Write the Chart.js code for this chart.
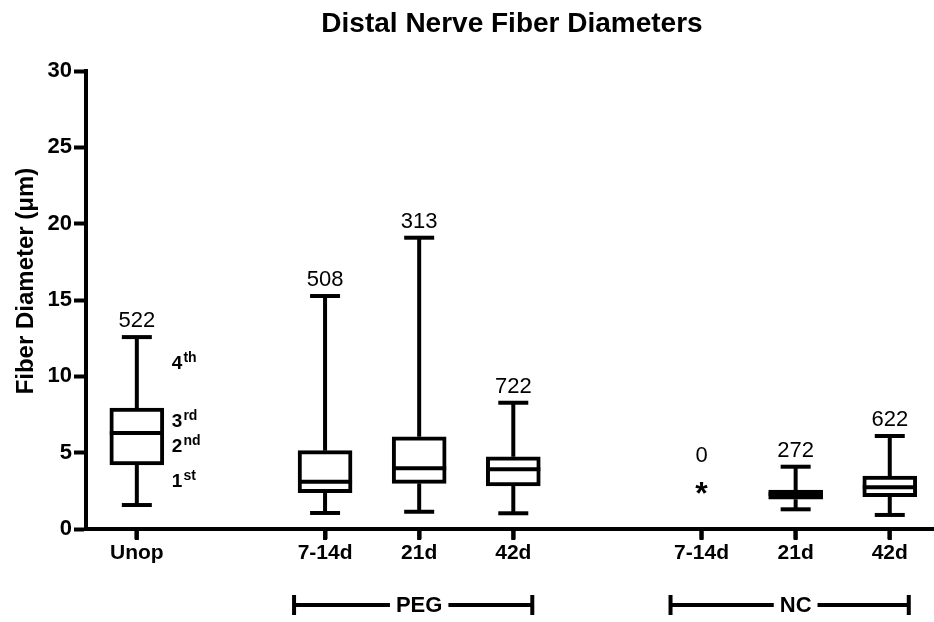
<!DOCTYPE html>
<html>
<head>
<meta charset="utf-8">
<title>Distal Nerve Fiber Diameters</title>
<script src="https://cdn.jsdelivr.net/npm/chart.js@4.4.0/dist/chart.umd.min.js"></script>
<style>
  html, body { margin: 0; padding: 0; background: #fff; }
  #wrap { width: 934px; height: 622px; }
</style>
</head>
<body>
<div id="wrap"><canvas id="chart"></canvas></div>
<script>
// one slot per box, blank slots are the gaps between groups
const categories = ['Unop', '', '7-14d', '21d', '42d', '', '7-14d', '21d', '42d'];
const mins    = [1.57, null, 1.05, 1.13, 1.03, null, null, 1.29, 0.92];
const q1s     = [4.19, null, 2.38, 2.99, 2.82, null, null, 1.95, 2.12];
const medians = [6.29, null, 3.10, 3.98, 3.91, null, null, 2.30, 2.73];
const q3s     = [7.92, null, 5.13, 6.04, 4.73, null, null, 2.55, 3.47];
const maxs    = [12.57, null, 15.26, 19.08, 8.27, null, null, 4.08, 6.09];
const counts  = ['522', null, '508', '313', '722', null, '0', '272', '622'];
const starred = [null, null, null, null, null, null, 2.83, null, null];
const yTicks  = [0, 5, 10, 15, 20, 25, 30];
const groups  = [
    {label: 'PEG', from: 2, to: 4},
    {label: 'NC', from: 6, to: 8}
];
// quartile legend next to the Unop box
const quartileNames = [['4', 'th'], ['3', 'rd'], ['2', 'nd'], ['1', 'st']];
const quartileAt    = [10.5, 6.7, 5.05, 2.75];

const FONT = "'Liberation Sans', Arial, Helvetica, sans-serif";
const BOX_W = 54;
const CAP_W = 30;

function line(ctx, x1, y1, x2, y2)
{
    ctx.beginPath();
    ctx.moveTo(x1, y1);
    ctx.lineTo(x2, y2);
    ctx.stroke();
}

const boxPlot = {
    id: 'boxPlot',
    afterDatasetsDraw(chart) {
        const ctx = chart.ctx;
        const xs = chart.scales.x;
        const ys = chart.scales.y;
        ctx.save();
        ctx.strokeStyle = '#000';
        ctx.fillStyle = '#000';
        ctx.lineWidth = 4;

        for (let i = 0; i < categories.length; i++)
        {
            const px = xs.getPixelForValue(i);
            if (medians[i] != null)
            {
                const yMax = ys.getPixelForValue(maxs[i]);
                const yMin = ys.getPixelForValue(mins[i]);
                const yQ1 = ys.getPixelForValue(q1s[i]);
                const yQ3 = ys.getPixelForValue(q3s[i]);
                const yMed = ys.getPixelForValue(medians[i]);
                line(ctx, px, yQ3, px, yMax);
                line(ctx, px, yQ1, px, yMin);
                line(ctx, px - CAP_W / 2, yMax, px + CAP_W / 2, yMax);
                line(ctx, px - CAP_W / 2, yMin, px + CAP_W / 2, yMin);
                line(ctx, px - BOX_W / 2, yMed, px + BOX_W / 2, yMed);
            }

            ctx.font = `22px ${FONT}`;
            ctx.textAlign = 'center';
            ctx.textBaseline = 'alphabetic';
            if (starred[i] != null)
            {
                const ys2 = ys.getPixelForValue(starred[i]);
                ctx.font = `bold 32px ${FONT}`;
                ctx.fillText('*', px, ys2 + 18);
                ctx.font = `22px ${FONT}`;
                if (counts[i] != null) ctx.fillText(counts[i], px, ys2 - 24);
            }
            else if (counts[i] != null)
            {
                ctx.fillText(counts[i], px, ys.getPixelForValue(maxs[i]) - 10);
            }
        }

        // 1st..4th quartile notes
        const qx = xs.getPixelForValue(0) + 35;
        ctx.textAlign = 'left';
        for (let k = 0; k < quartileNames.length; k++)
        {
            const by = ys.getPixelForValue(quartileAt[k]);
            ctx.font = `bold 19px ${FONT}`;
            ctx.fillText(quartileNames[k][0], qx, by);
            const w = ctx.measureText(quartileNames[k][0]).width;
            ctx.font = `bold 14px ${FONT}`;
            ctx.fillText(quartileNames[k][1], qx + w + 1, by - 7);
        }
        ctx.restore();
    },
    afterDraw(chart) {
        const ctx = chart.ctx;
        const xs = chart.scales.x;
        ctx.save();
        ctx.fillStyle = '#000';
        ctx.strokeStyle = '#000';
        ctx.lineWidth = 4;

        // x tick marks at the labelled slots
        xs.ticks.forEach((t, idx) => {
            const px = xs.getPixelForTick(idx);
            line(ctx, px, xs.top, px, xs.top + 11);
        });

        // title
        ctx.font = `bold 28px ${FONT}`;
        ctx.textAlign = 'center';
        ctx.textBaseline = 'alphabetic';
        ctx.fillText('Distal Nerve Fiber Diameters', 512, 32);

        // y axis title
        ctx.save();
        ctx.translate(33, 281);
        ctx.rotate(-Math.PI / 2);
        ctx.font = `bold 24px ${FONT}`;
        ctx.fillText('Fiber Diameter (\u03BCm)', 0, 0);
        ctx.restore();

        // group brackets under the x axis
        const by = 605;
        ctx.font = `bold 22px ${FONT}`;
        ctx.textBaseline = 'middle';
        groups.forEach(g => {
            const left = xs.getPixelForValue(g.from) - 31;
            const right = xs.getPixelForValue(g.to) + 19;
            const mid = xs.getPixelForValue((g.from + g.to) / 2);
            const tw = ctx.measureText(g.label).width;
            line(ctx, left, by, mid - tw / 2 - 6, by);
            line(ctx, mid + tw / 2 + 6, by, right, by);
            line(ctx, left, by - 10, left, by + 10);
            line(ctx, right, by - 10, right, by + 10);
            ctx.fillText(g.label, mid, by + 1);
        });
        ctx.restore();
    }
};

let boxData = [];
for (let i = 0; i < categories.length; i++)
{
    if (q1s[i] != null) boxData.push({x: i, y: [q1s[i], q3s[i]]});
}

const ctx = document.getElementById('chart').getContext('2d');
const chart = new Chart(ctx, {
    type: 'bar',
    data: {
        datasets: [{
            data: boxData,
            backgroundColor: '#fff',
            borderColor: '#000',
            borderWidth: 4,
            borderSkipped: false,
            barThickness: BOX_W
        }]
    },
    options: {
        responsive: true,
        maintainAspectRatio: false,
        animation: false,
        layout: { padding: { top: 71, right: 0, bottom: 0, left: 0 } },
        plugins: {
            legend: { display: false },
            tooltip: { enabled: false },
            title: { display: false }
        },
        scales: {
            x: {
                type: 'linear',
                offset: false,
                min: -0.54,
                max: 8.47,
                afterBuildTicks: s => {
                    s.ticks = categories.map((c, i) => ({value: i})).filter(t => categories[t.value] !== '');
                },
                afterFit: s => { s.height = 93; },
                ticks: {
                    callback: v => categories[v],
                    color: '#000',
                    font: { family: FONT, size: 21, weight: 'bold' },
                    padding: 2,
                    maxRotation: 0,
                    autoSkip: false
                },
                grid: { offset: false, drawOnChartArea: false, tickLength: 10, tickWidth: 4, tickColor: '#000' },
                border: { color: '#000', width: 4 }
            },
            y: {
                min: 0,
                max: 30,
                afterBuildTicks: s => { s.ticks = yTicks.map(v => ({value: v})); },
                afterFit: s => { s.width = 86; },
                ticks: {
                    color: '#000',
                    font: { family: FONT, size: 22, weight: 'bold' },
                    padding: 2
                },
                grid: { drawOnChartArea: false, tickLength: 12, tickWidth: 4, tickColor: '#000' },
                border: { color: '#000', width: 4 }
            }
        }
    },
    plugins: [boxPlot]
});
</script>
</body>
</html>
